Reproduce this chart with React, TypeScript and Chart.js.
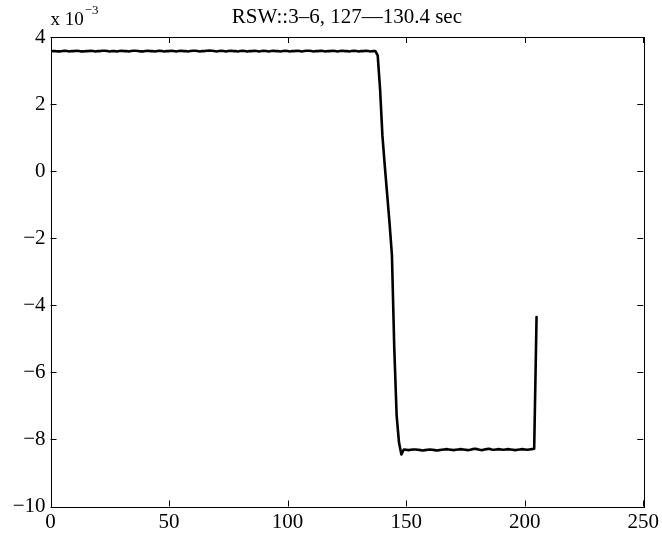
import React, { useEffect, useRef } from "react";
import { Chart, registerables } from "chart.js";

Chart.register(...registerables);

const TITLE = "RSW::3\u20136, 127\u2013\u2013130.4 sec";
const X_TICKS = [0, 50, 100, 150, 200, 250];
const Y_TICKS = [-10, -8, -6, -4, -2, 0, 2, 4];

// values in units of 1e-3, samples 1..137
const topPlateau = [
  3.58, 3.58, 3.57, 3.57, 3.58, 3.59, 3.58, 3.57, 3.58, 3.58,
  3.59, 3.58, 3.57, 3.57, 3.58, 3.58, 3.59, 3.58, 3.57, 3.58,
  3.58, 3.59, 3.59, 3.58, 3.57, 3.58, 3.58, 3.57, 3.58, 3.59,
  3.58, 3.58, 3.57, 3.58, 3.59, 3.59, 3.58, 3.57, 3.57, 3.58,
  3.59, 3.58, 3.58, 3.57, 3.58, 3.59, 3.58, 3.57, 3.58, 3.58,
  3.59, 3.58, 3.57, 3.58, 3.59, 3.58, 3.58, 3.57, 3.58, 3.59,
  3.59, 3.58, 3.57, 3.58, 3.58, 3.59, 3.60, 3.59, 3.58, 3.57,
  3.58, 3.59, 3.58, 3.57, 3.58, 3.59, 3.58, 3.58, 3.57, 3.58,
  3.59, 3.58, 3.57, 3.58, 3.58, 3.59, 3.58, 3.57, 3.58, 3.59,
  3.58, 3.57, 3.58, 3.59, 3.58, 3.58, 3.57, 3.58, 3.59, 3.58,
  3.57, 3.58, 3.58, 3.59, 3.58, 3.57, 3.58, 3.59, 3.59, 3.58,
  3.57, 3.58, 3.58, 3.59, 3.58, 3.57, 3.58, 3.58, 3.59, 3.58,
  3.57, 3.58, 3.59, 3.58, 3.58, 3.57, 3.58, 3.59, 3.58, 3.57,
  3.58, 3.58, 3.59, 3.58, 3.57, 3.58, 3.58,
];
// samples 138..148
const dropSegment = [3.45, 2.45, 1.05, 0.15, -0.7, -1.55, -2.5, -5.3, -7.3, -8.1, -8.45];
// samples 149..204
const bottomPlateau = [
  -8.30, -8.31, -8.32, -8.31, -8.30, -8.30, -8.31, -8.32, -8.33, -8.32,
  -8.31, -8.30, -8.31, -8.32, -8.33, -8.32, -8.31, -8.30, -8.29, -8.30,
  -8.31, -8.32, -8.31, -8.30, -8.29, -8.30, -8.31, -8.32, -8.31, -8.29,
  -8.28, -8.29, -8.31, -8.32, -8.30, -8.29, -8.28, -8.30, -8.31, -8.30,
  -8.29, -8.30, -8.31, -8.30, -8.29, -8.30, -8.31, -8.32, -8.31, -8.30,
  -8.29, -8.30, -8.31, -8.30, -8.29, -8.28,
];
// sample 205
const finalSpike = [-4.35];

const FONT = "'Liberation Serif', 'Times New Roman', serif";
const TICK_SIZE = 21;

export default function App() {
  const ref = useRef<HTMLCanvasElement | null>(null);

  useEffect(() => {
    document.body.style.margin = "0";
    const canvas = ref.current;
    if (!canvas) return;
    const series = [...topPlateau, ...dropSegment, ...bottomPlateau, ...finalSpike];
    const points = series.map((y, i) => ({ x: i + 1, y }));

    const boxPlugin = {
      id: "matlabBox",
      afterDraw(chart: any) {
        const { ctx, chartArea: a, scales } = chart;
        ctx.save();
        ctx.strokeStyle = "#000";
        ctx.lineWidth = 1;
        ctx.strokeRect(Math.round(a.left) + 0.5, Math.round(a.top) + 0.5, Math.round(a.right - a.left), Math.round(a.bottom - a.top));
        const tl = 6;
        ctx.beginPath();
        for (const v of X_TICKS) {
          const px = Math.round(scales.x.getPixelForValue(v)) + 0.5;
          ctx.moveTo(px, a.bottom);
          ctx.lineTo(px, a.bottom - tl);
          ctx.moveTo(px, a.top);
          ctx.lineTo(px, a.top + tl);
        }
        for (const v of Y_TICKS) {
          const py = Math.round(scales.y.getPixelForValue(v)) + 0.5;
          ctx.moveTo(a.left, py);
          ctx.lineTo(a.left + tl, py);
          ctx.moveTo(a.right, py);
          ctx.lineTo(a.right - tl, py);
        }
        ctx.stroke();

        ctx.fillStyle = "#000";
        ctx.textBaseline = "alphabetic";
        ctx.textAlign = "center";
        ctx.font = `21px ${FONT}`;
        ctx.fillText(TITLE, (a.left + a.right) / 2, 23);

        ctx.textAlign = "left";
        ctx.font = `19px ${FONT}`;
        ctx.fillText("x 10", a.left, 25);
        const w = ctx.measureText("x 10").width;
        ctx.font = `13px ${FONT}`;
        ctx.fillText("\u22123", a.left + w + 1, 14);
        ctx.restore();
      },
    };

    const chart = new Chart(canvas, {
      type: "line",
      data: {
        datasets: [
          {
            data: points,
            borderColor: "#000",
            borderWidth: 2.6,
            pointRadius: 0,
            tension: 0,
            fill: false,
            borderJoinStyle: "round",
            borderCapStyle: "round",
          },
        ],
      },
      options: {
        responsive: false,
        animation: false,
        parsing: false,
        layout: { padding: { top: 37, right: 16, left: 0, bottom: 0 } },
        plugins: { legend: { display: false }, tooltip: { enabled: false }, title: { display: false } },
        scales: {
          x: {
            type: "linear",
            min: 0,
            max: 250,
            afterBuildTicks: (s: any) => {
              s.ticks = X_TICKS.map((value) => ({ value }));
            },
            afterFit: (s: any) => {
              s.height = 29.5;
            },
            grid: { display: false, drawTicks: false },
            border: { display: false },
            ticks: {
              color: "#000",
              font: { family: FONT, size: TICK_SIZE },
              padding: 3,
              maxRotation: 0,
              autoSkip: false,
            },
          },
          y: {
            type: "linear",
            min: -10,
            max: 4,
            afterBuildTicks: (s: any) => {
              s.ticks = Y_TICKS.map((value) => ({ value }));
            },
            afterFit: (s: any) => {
              s.width = 50.5;
            },
            grid: { display: false, drawTicks: false },
            border: { display: false },
            ticks: {
              color: "#000",
              font: { family: FONT, size: TICK_SIZE },
              padding: 5,
              autoSkip: false,
              callback: (v: any) => (Number(v) < 0 ? "\u2212" + Math.abs(Number(v)) : String(v)),
            },
          },
        },
      },
      plugins: [boxPlugin],
    } as any);

    return () => chart.destroy();
  }, []);

  return <canvas ref={ref} width={662} height={536} style={{ display: "block" }} />;
}
